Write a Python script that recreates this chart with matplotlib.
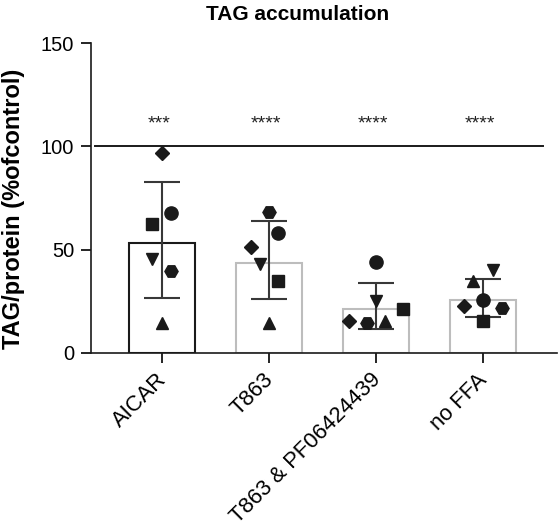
import matplotlib
matplotlib.use("Agg")
import matplotlib.pyplot as plt
import matplotlib.transforms as mtransforms
import numpy as np

plt.rcParams['font.family'] = ['Liberation Sans', 'DejaVu Sans']

categories = ["AICAR", "T863", "T863 & PF06424439", "no FFA"]
means = [53.2, 43.7, 21.3, 25.7]
err_upper = [82.8, 63.7, 33.8, 35.7]
err_lower = [26.3, 26.0, 11.4, 17.5]
stars = ["***", "****", "****", "****"]
edge_colors = ["#1a1a1a", "#bdbdbd", "#bdbdbd", "#bdbdbd"]

# replicate points per group: (marker, value, jitter offset)
markers = ["^", "s", "o", "v", "D", "H"]
aicar_pts = [14.3, 62.2, 67.5, 45.6, 97.0, 39.6]
t863_pts = [14.3, 34.7, 57.8, 42.9, 51.3, 68.0]
t863pf_pts = [15.3, 21.1, 43.8, 25.3, 15.6, 14.3]
noffa_pts = [34.7, 15.3, 25.6, 40.0, 22.4, 21.8]
aicar_jit = [0.0, -0.09, 0.085, -0.09, 0.0, 0.085]
t863_jit = [0.0, 0.087, 0.087, -0.087, -0.17, 0.0]
t863pf_jit = [0.087, 0.255, 0.0, 0.0, -0.25, -0.087]
noffa_jit = [-0.09, 0.0, 0.0, 0.09, -0.18, 0.175]
points = [aicar_pts, t863_pts, t863pf_pts, noffa_pts]
jitters = [aicar_jit, t863_jit, t863pf_jit, noffa_jit]
reference_level = 100

fig = plt.figure(figsize=(5.58, 5.28), dpi=100)
ax = fig.add_axes([0.1625, 0.332, 0.8355, 0.586])

x = np.arange(len(categories))
for i in x:
    ax.bar(i, means[i], width=0.62, facecolor="white", edgecolor=edge_colors[i],
           linewidth=1.5, zorder=1)
    ax.errorbar(i, means[i], yerr=[[means[i] - err_lower[i]], [err_upper[i] - means[i]]],
                fmt="none", ecolor="#383838", elinewidth=1.5, capsize=13, capthick=1.5, zorder=2)
    for m, v, j in zip(markers, points[i], jitters[i]):
        ms = {"^": 9, "v": 9, "s": 8.5, "o": 9.5, "D": 7, "H": 9.5}[m]
        ax.plot(i + j, v, marker=m, color="#1a1a1a", markersize=ms, linestyle="none", zorder=3)
    ax.text(i - 0.03, 108.5, stars[i], ha="center", va="baseline", fontsize=14, color="#222222")

ax.plot([-0.63, 3.56], [reference_level, reference_level], color="#1a1a1a", linewidth=1.4, zorder=0)

ax.set_xlim(-0.666, 3.69)
ax.set_ylim(0, 150)
ax.set_yticks([0, 50, 100, 150])
ax.set_xticks(x)
ax.set_xticklabels(categories, rotation=45, ha="right", rotation_mode="anchor", fontsize=15.8)
ax.tick_params(axis="y", labelsize=14.5, length=7, width=1.2, direction="out", pad=5)
ax.tick_params(axis="x", length=7, width=1.2, direction="out", pad=5)
offset = mtransforms.ScaledTranslation(-6 / 100, 0, fig.dpi_scale_trans)
for lbl in ax.get_xticklabels():
    lbl.set_transform(lbl.get_transform() + offset)
for s in ["top", "right"]:
    ax.spines[s].set_visible(False)
for s in ["left", "bottom"]:
    ax.spines[s].set_linewidth(1.2)
    ax.spines[s].set_color("#1a1a1a")

ax.set_ylabel("TAG/protein (%ofcontrol)", fontsize=17, fontweight="bold")
ax.yaxis.set_label_coords(-(90.7 - 25) / 466, (352.7 - 209) / 309.4)
fig.text(298 / 558, 1 - 14 / 528, "TAG accumulation", ha="center", va="center",
         fontsize=15, fontweight="bold")

fig.savefig("out.png", dpi=100)
